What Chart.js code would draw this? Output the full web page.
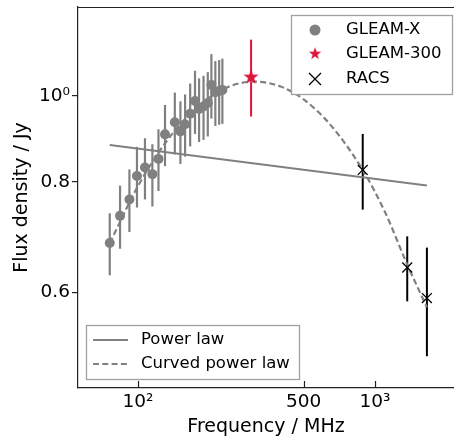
<!DOCTYPE html>
<html>
<head>
<meta charset="utf-8">
<title>Spectrum</title>
<script src="https://cdn.jsdelivr.net/npm/chart.js"></script>
<style>
  body { margin: 0; background: #fff; }
</style>
</head>
<body>
<canvas id="spectrum" width="454" height="438"></canvas>
<script>
// GLEAM-X sub-bands (MHz) and flux densities (Jy)
var gleamxFreq = [76, 84, 92, 99, 107, 115, 122, 130, 143, 151, 158, 166, 174, 181, 189, 197, 204, 212, 220, 227];
var gleamxFlux = [0.682, 0.732, 0.764, 0.812, 0.830, 0.816, 0.849, 0.905, 0.934, 0.912, 0.929, 0.955, 0.987, 0.967, 0.973, 0.982, 1.029, 1.010, 1.013, 1.016];
var gleamxErr  = [0.055, 0.060, 0.062, 0.064, 0.066, 0.066, 0.068, 0.072, 0.075, 0.074, 0.075, 0.078, 0.081, 0.080, 0.081, 0.082, 0.086, 0.085, 0.085, 0.086];

var gleam300Freq = [300];
var gleam300Flux = [1.053];
var gleam300Err  = [0.105];

var racsFreq = [887.5, 1367.5, 1655.5];
var racsFlux = [0.825, 0.640, 0.591];
var racsErr  = [0.081, 0.054, 0.083];

// model fits
var powerFreq = [76, 1655];
var powerFlux = [0.880, 0.792];
var curvedFreq = [76, 100, 130, 160, 200, 250, 310, 400, 500, 650, 887, 1100, 1367, 1655];
var curvedFlux = [0.682, 0.791, 0.884, 0.945, 0.996, 1.028, 1.038, 1.025, 0.991, 0.927, 0.825, 0.740, 0.645, 0.577];

var xTicks = [100, 500, 1000];
var yTicks = [0.6, 0.8, 1.0];

var FONT = "'DejaVu Sans', sans-serif";
var GREY = '#808080';
var CRIMSON = '#dc143c';

function pts(xs, ys) {
    return xs.map(function(x, i) { return {x: x, y: ys[i]}; });
}

// filled five point star, used as a point style
function makeStar(size, color) {
    var c = document.createElement('canvas');
    c.width = size;
    c.height = size;
    var g = c.getContext('2d');
    var r = size / 2, ri = r * 0.4;
    g.beginPath();
    for (var i = 0; i < 10; i++) {
        var rad = i % 2 ? ri : r;
        var a = -Math.PI / 2 + i * Math.PI / 5;
        g.lineTo(r + rad * Math.cos(a), r + rad * Math.sin(a) + 1);
    }
    g.closePath();
    g.fillStyle = color;
    g.fill();
    return c;
}
var starImg = makeStar(16, CRIMSON);

// vertical error bars, drawn under the markers
var errorBars = {
    id: 'errorBars',
    beforeDatasetsDraw: function(chart) {
        var ctx = chart.ctx, xs = chart.scales.x, ys = chart.scales.y;
        chart.data.datasets.forEach(function(ds) {
            if (!ds.errors) return;
            ctx.save();
            ctx.strokeStyle = ds.errorColor;
            ctx.lineWidth = ds.errorWidth;
            ds.data.forEach(function(p, i) {
                var px = xs.getPixelForValue(p.x);
                ctx.beginPath();
                ctx.moveTo(px, ys.getPixelForValue(p.y - ds.errors[i]));
                ctx.lineTo(px, ys.getPixelForValue(p.y + ds.errors[i]));
                ctx.stroke();
            });
            ctx.restore();
        });
    }
};

// top spine, inward x ticks and the two legends
var frame = {
    id: 'frame',
    afterDraw: function(chart) {
        var ctx = chart.ctx, a = chart.chartArea, xs = chart.scales.x;
        ctx.save();
        ctx.strokeStyle = '#222';
        ctx.lineWidth = 1.2;
        ctx.beginPath();
        ctx.moveTo(a.left, a.top + 0.5);
        ctx.lineTo(a.right, a.top + 0.5);
        ctx.stroke();
        xTicks.forEach(function(v) {
            var px = Math.round(xs.getPixelForValue(v)) + 0.5;
            ctx.beginPath();
            ctx.moveTo(px, a.bottom);
            ctx.lineTo(px, a.bottom - 7);
            ctx.stroke();
        });

        ctx.font = '16.5px ' + FONT;
        ctx.textBaseline = 'middle';
        ctx.fillStyle = '#000';

        // markers legend
        ctx.fillStyle = '#fff';
        ctx.fillRect(291, 15, 162, 80);
        ctx.strokeStyle = '#a0a0a0';
        ctx.lineWidth = 1.3;
        ctx.strokeRect(291.5, 15.5, 161, 79);
        ctx.fillStyle = GREY;
        ctx.beginPath();
        ctx.arc(315, 30, 5.5, 0, Math.PI * 2);
        ctx.fill();
        ctx.drawImage(starImg, 315 - 6.5, 53 - 6.5, 13, 13);
        ctx.strokeStyle = '#000';
        ctx.lineWidth = 1.3;
        ctx.beginPath();
        ctx.moveTo(309, 73); ctx.lineTo(321, 85);
        ctx.moveTo(321, 73); ctx.lineTo(309, 85);
        ctx.stroke();
        ctx.fillStyle = '#000';
        ctx.fillText('GLEAM-X', 346, 30);
        ctx.fillText('GLEAM-300', 346, 54);
        ctx.fillText('RACS', 346, 79);

        // lines legend
        ctx.fillStyle = '#fff';
        ctx.fillRect(86, 325, 214, 55);
        ctx.strokeStyle = '#a0a0a0';
        ctx.lineWidth = 1.3;
        ctx.strokeRect(86.5, 325.5, 213, 54);
        ctx.strokeStyle = GREY;
        ctx.lineWidth = 2.2;
        ctx.beginPath();
        ctx.moveTo(93, 340); ctx.lineTo(128, 340);
        ctx.stroke();
        ctx.setLineDash([6, 3.3]);
        ctx.beginPath();
        ctx.moveTo(93, 364); ctx.lineTo(128, 364);
        ctx.stroke();
        ctx.setLineDash([]);
        ctx.fillStyle = '#000';
        ctx.fillText('Power law', 141, 340);
        ctx.fillText('Curved power law', 141, 364);
        ctx.restore();
    }
};

var ctx = document.getElementById('spectrum').getContext('2d');
var chart = new Chart(ctx, {
    type: 'scatter',
    data: {
        datasets: [
            {
                label: 'GLEAM-X',
                data: pts(gleamxFreq, gleamxFlux),
                errors: gleamxErr,
                errorColor: GREY,
                errorWidth: 2.2,
                pointStyle: 'circle',
                pointRadius: 5,
                backgroundColor: GREY,
                borderWidth: 0
            },
            {
                label: 'GLEAM-300',
                data: pts(gleam300Freq, gleam300Flux),
                errors: gleam300Err,
                errorColor: CRIMSON,
                errorWidth: 2,
                pointStyle: starImg,
                pointRadius: 8
            },
            {
                label: 'RACS',
                data: pts(racsFreq, racsFlux),
                errors: racsErr,
                errorColor: '#000',
                errorWidth: 2,
                pointStyle: 'crossRot',
                pointRadius: 7,
                borderColor: '#000',
                borderWidth: 1.3
            },
            {
                label: 'Curved power law',
                data: pts(curvedFreq, curvedFlux),
                showLine: true,
                cubicInterpolationMode: 'monotone',
                borderColor: GREY,
                borderWidth: 2.2,
                borderDash: [6, 3.3],
                pointRadius: 0
            },
            {
                label: 'Power law',
                data: pts(powerFreq, powerFlux),
                showLine: true,
                borderColor: GREY,
                borderWidth: 2,
                pointRadius: 0
            }
        ]
    },
    options: {
        responsive: false,
        animation: false,
        devicePixelRatio: 1,
        layout: { autoPadding: false, padding: { top: 7, left: 0, right: 0, bottom: 0 } },
        plugins: {
            legend: { display: false },
            tooltip: { enabled: false }
        },
        scales: {
            x: {
                type: 'logarithmic',
                min: 55.83,
                max: 2154,
                afterBuildTicks: function(scale) {
                    scale.ticks = xTicks.map(function(v) { return {value: v}; });
                },
                afterFit: function(scale) {
                    scale.height = 50;
                    scale.paddingLeft = 0;
                    scale.paddingRight = 0;
                },
                ticks: {
                    autoSkip: false,
                    maxRotation: 0,
                    padding: 3,
                    color: '#000',
                    font: { family: FONT, size: 18.5 },
                    callback: function(v) {
                        if (v === 100) return '10²';
                        if (v === 1000) return '10³';
                        return String(v);
                    }
                },
                grid: { drawOnChartArea: false, drawTicks: false },
                border: { color: '#222', width: 1.2 },
                title: {
                    display: true,
                    text: 'Frequency / MHz',
                    color: '#000',
                    font: { family: FONT, size: 19 },
                    padding: { top: 0, bottom: 0 }
                }
            },
            y: {
                type: 'logarithmic',
                min: 0.4677,
                max: 1.2606,
                afterBuildTicks: function(scale) {
                    scale.ticks = yTicks.map(function(v) { return {value: v}; });
                },
                afterFit: function(scale) {
                    scale.width = 78;
                    scale.paddingTop = 0;
                    scale.paddingBottom = 0;
                },
                ticks: {
                    autoSkip: false,
                    padding: 2,
                    color: '#000',
                    font: { family: FONT, size: 18.5 },
                    callback: function(v) {
                        if (v === 1) return '10⁰';
                        return v.toFixed(1);
                    }
                },
                grid: { drawOnChartArea: false, drawTicks: true, tickLength: 6, color: '#222', lineWidth: 1.2 },
                border: { color: '#222', width: 1.2 },
                title: {
                    display: true,
                    text: 'Flux density / Jy',
                    color: '#000',
                    font: { family: FONT, size: 19 },
                    padding: { top: 11, bottom: 0 }
                }
            }
        }
    },
    plugins: [errorBars, frame]
});
</script>
</body>
</html>
